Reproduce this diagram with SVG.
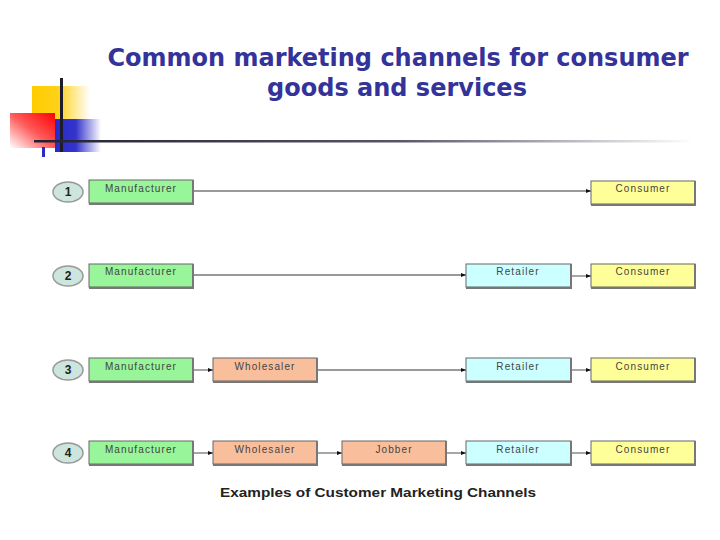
<svg xmlns="http://www.w3.org/2000/svg" width="720" height="540" viewBox="0 0 720 540">
<defs>
<linearGradient id="gY" x1="0" y1="0" x2="1" y2="0"><stop offset="0" stop-color="#ffcc00"/><stop offset="0.45" stop-color="#ffd21a"/><stop offset="1" stop-color="#ffffff"/></linearGradient>
<linearGradient id="gB" x1="0" y1="0" x2="1" y2="0"><stop offset="0" stop-color="#2a2ac8"/><stop offset="0.45" stop-color="#3434cc"/><stop offset="1" stop-color="#ffffff"/></linearGradient>
<linearGradient id="gR" x1="1" y1="0" x2="0" y2="1"><stop offset="0" stop-color="#ff0000"/><stop offset="0.5" stop-color="#ff5a5a"/><stop offset="1" stop-color="#ffffff"/></linearGradient>
<linearGradient id="gL" x1="0" y1="0" x2="1" y2="0"><stop offset="0" stop-color="#222233"/><stop offset="0.55" stop-color="#555566"/><stop offset="1" stop-color="#ffffff"/></linearGradient>
<marker id="arr" markerWidth="6" markerHeight="6" refX="5" refY="3" orient="auto" markerUnits="userSpaceOnUse"><path d="M0,1 L5,3 L0,5 Z" fill="#111"/></marker>
<style>
.title{font-family:"DejaVu Sans",Verdana,sans-serif;font-weight:bold;font-size:24px;fill:#333399;text-anchor:middle}
.box{stroke:#666;stroke-width:1}
.sh{fill:none;stroke:#777;stroke-width:2}
.mf{fill:#99f599}
.wh{fill:#f9bf9c}
.rt{fill:#ccffff}
.cn{fill:#ffff99}
.lbl{font-family:"Liberation Sans",Arial,sans-serif;font-size:10px;fill:#444;text-anchor:middle;letter-spacing:1.1px}
.num{fill:#cce6de;stroke:#999;stroke-width:1.5}
.numt{font-family:"Liberation Sans",Arial,sans-serif;font-weight:bold;font-size:12px;fill:#222;text-anchor:middle}
.con{stroke:#777;stroke-width:1.3;fill:none;marker-end:url(#arr)}
.cap{font-family:"Liberation Sans",Arial,sans-serif;font-weight:bold;font-size:12px;fill:#222;text-anchor:middle}
</style>
</defs>
<rect width="720" height="540" fill="#ffffff"/>
<g id="decor">
<rect x="32" y="86" width="58" height="34" fill="url(#gY)"/>
<rect x="55" y="119" width="46" height="33" fill="url(#gB)"/>
<rect x="10" y="113" width="45" height="35" fill="url(#gR)"/>
<rect x="60" y="78" width="3" height="74" fill="#1c1c2c"/>
<rect x="34" y="140" width="660" height="2.5" fill="url(#gL)"/>
<rect x="42" y="147" width="3" height="10" fill="#2a2ac8"/>
</g>
<g id="title">
<text class="title" x="398" y="66">Common marketing channels for consumer</text>
<text class="title" x="397" y="96">goods and services</text>
</g>
<g id="connectors">
<line class="con" x1="193" y1="191" x2="591" y2="191"/>
<line class="con" x1="193" y1="275" x2="466" y2="275"/>
<line class="con" x1="571" y1="276" x2="591" y2="276"/>
<line class="con" x1="193" y1="370" x2="213" y2="370"/>
<line class="con" x1="317" y1="370" x2="466" y2="370"/>
<line class="con" x1="571" y1="370" x2="591" y2="370"/>
<line class="con" x1="193" y1="453" x2="213" y2="453"/>
<line class="con" x1="317" y1="453" x2="342" y2="453"/>
<line class="con" x1="446" y1="453" x2="466" y2="453"/>
<line class="con" x1="571" y1="453" x2="591" y2="453"/>
</g>
<g id="n1"><ellipse class="num" cx="68" cy="192" rx="15" ry="10"/><text class="numt" x="68" y="196">1</text></g>
<g id="r1-manufacturer"><rect class="box mf" x="89" y="180" width="104" height="23"/><path class="sh" d="M193,180 V204 H89"/><text class="lbl" x="141" y="192">Manufacturer</text></g>
<g id="r1-consumer"><rect class="box cn" x="591" y="181" width="104" height="23"/><path class="sh" d="M695,181 V205 H591"/><text class="lbl" x="643" y="192">Consumer</text></g>
<g id="n2"><ellipse class="num" cx="68" cy="276" rx="15" ry="10"/><text class="numt" x="68" y="280">2</text></g>
<g id="r2-manufacturer"><rect class="box mf" x="89" y="264" width="104" height="23"/><path class="sh" d="M193,264 V288 H89"/><text class="lbl" x="141" y="275">Manufacturer</text></g>
<g id="r2-retailer"><rect class="box rt" x="466" y="264" width="105" height="23"/><path class="sh" d="M571,264 V288 H466"/><text class="lbl" x="518" y="275">Retailer</text></g>
<g id="r2-consumer"><rect class="box cn" x="591" y="264" width="104" height="23"/><path class="sh" d="M695,264 V288 H591"/><text class="lbl" x="643" y="275">Consumer</text></g>
<g id="n3"><ellipse class="num" cx="68" cy="370" rx="15" ry="10"/><text class="numt" x="68" y="374">3</text></g>
<g id="r3-manufacturer"><rect class="box mf" x="89" y="358" width="104" height="23"/><path class="sh" d="M193,358 V382 H89"/><text class="lbl" x="141" y="370">Manufacturer</text></g>
<g id="r3-wholesaler"><rect class="box wh" x="213" y="358" width="104" height="23"/><path class="sh" d="M317,358 V382 H213"/><text class="lbl" x="265" y="370">Wholesaler</text></g>
<g id="r3-retailer"><rect class="box rt" x="466" y="358" width="105" height="23"/><path class="sh" d="M571,358 V382 H466"/><text class="lbl" x="518" y="370">Retailer</text></g>
<g id="r3-consumer"><rect class="box cn" x="591" y="358" width="104" height="23"/><path class="sh" d="M695,358 V382 H591"/><text class="lbl" x="643" y="370">Consumer</text></g>
<g id="n4"><ellipse class="num" cx="68" cy="453" rx="15" ry="10"/><text class="numt" x="68" y="457">4</text></g>
<g id="r4-manufacturer"><rect class="box mf" x="89" y="441" width="104" height="23"/><path class="sh" d="M193,441 V465 H89"/><text class="lbl" x="141" y="453">Manufacturer</text></g>
<g id="r4-wholesaler"><rect class="box wh" x="213" y="441" width="104" height="23"/><path class="sh" d="M317,441 V465 H213"/><text class="lbl" x="265" y="453">Wholesaler</text></g>
<g id="r4-jobber"><rect class="box wh" x="342" y="441" width="104" height="23"/><path class="sh" d="M446,441 V465 H342"/><text class="lbl" x="394" y="453">Jobber</text></g>
<g id="r4-retailer"><rect class="box rt" x="466" y="441" width="105" height="23"/><path class="sh" d="M571,441 V465 H466"/><text class="lbl" x="518" y="453">Retailer</text></g>
<g id="r4-consumer"><rect class="box cn" x="591" y="441" width="104" height="23"/><path class="sh" d="M695,441 V465 H591"/><text class="lbl" x="643" y="453">Consumer</text></g>
<g id="caption"><text class="cap" x="378" y="497" textLength="316" lengthAdjust="spacingAndGlyphs">Examples of Customer Marketing Channels</text></g>
</svg>
